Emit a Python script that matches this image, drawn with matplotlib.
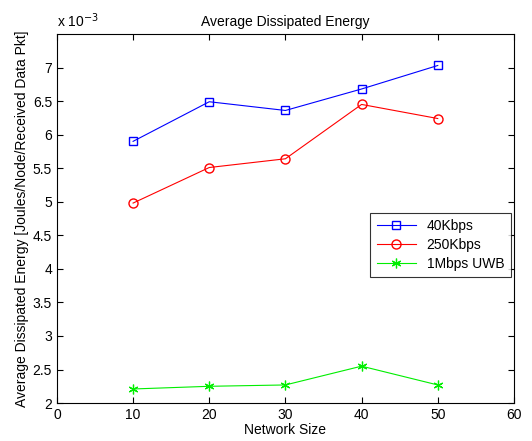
import matplotlib
matplotlib.use('Agg')
import matplotlib.pyplot as plt
import numpy as np
from matplotlib.ticker import FuncFormatter, MultipleLocator, FixedLocator

plt.rcParams['font.family'] = ['Liberation Sans', 'DejaVu Sans']
plt.rcParams['font.size'] = 10

network_size = [10, 20, 30, 40, 50]
energy_40k = [5.90e-3, 6.49e-3, 6.36e-3, 6.68e-3, 7.03e-3]
energy_250k = [4.98e-3, 5.51e-3, 5.64e-3, 6.45e-3, 6.24e-3]
energy_uwb = [2.21e-3, 2.25e-3, 2.27e-3, 2.55e-3, 2.27e-3]

fig = plt.figure(figsize=(5.32, 4.41), dpi=100)
ax = fig.add_axes([0.107, 0.086, 0.859, 0.837])

ax.plot(network_size, energy_40k, color='blue', marker='s', markersize=5.5,
        markerfacecolor='none', linewidth=0.8, label='40Kbps')
ax.plot(network_size, energy_250k, color='red', marker='o', markersize=6.5,
        markerfacecolor='none', linewidth=0.8, label='250Kbps')
ax.plot(network_size, energy_uwb, color='#00ee00', marker=(6, 2, 0), markersize=7,
        markeredgewidth=0.9, linewidth=0.8, label='1Mbps UWB')

ax.set_xlim(0, 60)
ax.set_ylim(2e-3, 7.5e-3)
ax.xaxis.set_major_locator(MultipleLocator(10))
ax.yaxis.set_major_locator(FixedLocator(np.arange(2, 7.01, 0.5) * 1e-3))
ax.yaxis.set_major_formatter(FuncFormatter(lambda v, p: '%g' % round(v * 1e3, 2)))
ax.tick_params(direction='in', top=True, right=True, length=4, labelsize=10)

ax.set_title('Average Dissipated Energy', fontsize=10)
ax.set_xlabel('Network Size', fontsize=10, labelpad=1)
ax.set_ylabel('Average Dissipated Energy [Joules/Node/Received Data Pkt]', fontsize=10, labelpad=3)
ax.text(0.0, 1.01, 'x 10$^{-3}$', transform=ax.transAxes, fontsize=10,
        ha='left', va='bottom')

leg = ax.legend(loc='upper right', bbox_to_anchor=(1.008, 0.535), fancybox=False,
                edgecolor='black', fontsize=10, handlelength=2.8, borderpad=0.45,
                labelspacing=0.35)
leg.get_frame().set_linewidth(0.8)

fig.savefig('out.png', dpi=100)
